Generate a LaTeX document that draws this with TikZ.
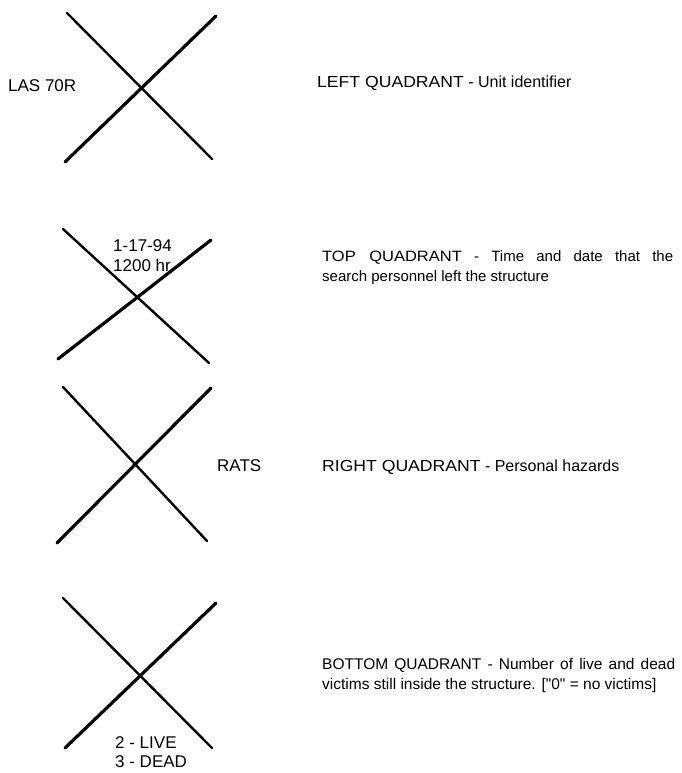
\documentclass[tikz,border=0pt]{standalone}
\usepackage{fontspec}
\setmainfont{Liberation Sans}
\newfontfamily\wideCaps[FakeStretch=1.1]{Liberation Sans}
\usetikzlibrary{positioning}
\newcommand{\plainQuote}{{\addfontfeatures{Ligatures=TeXOff}"}}
\tikzset{
  crossLine/.style={line width=2.4pt, line cap=round},
  crossHeavy/.style={line width=3.2pt, line cap=round},
  markLabel/.style={
    font=\fontsize{17}{20}\selectfont,
    inner sep=0pt, anchor=base west, align=left
  },
  descText/.style={
    font=\fontsize{16}{20}\selectfont,
    inner sep=0pt, anchor=base west, align=left
  }
}
\begin{document}
\begin{tikzpicture}[x=1pt, y=-1pt]

\useasboundingbox (0,0) rectangle (681,773);

%% ==============================================================
%% Left quadrant
%% ==============================================================
\coordinate (aTL) at (67,13);
\coordinate (aTR) at (216,16);
\coordinate (aBL) at (65,162);
\coordinate (aBR) at (212,159);
\draw[crossLine] (aTL) -- (aBR);
\draw[crossHeavy] (aBL) -- (aTR);

\node[markLabel] (unitId) at (8,92) {LAS 70R};
\node[descText] (leftDesc) at (317,88)
  {{\wideCaps LEFT QUADRANT} - Unit identifier};

%% ==============================================================
%% Top quadrant
%% ==============================================================
\coordinate (bTL) at (63,229);
\coordinate (bTR) at (211,240);
\coordinate (bBL) at (58,359);
\coordinate (bBR) at (209,363);
\draw[crossLine] (bTL) -- (bBR);
\draw[crossHeavy] (bBL) -- (bTR);

\node[markLabel] (timeDate) at (113,271) {1-17-94\\1200 hr};
\node[descText, font=\fontsize{15}{20}\selectfont, text width=351pt,
      align=justify] (topDesc) at (322,261) {
  {\wideCaps TOP QUADRANT} - Time and date that the\linebreak
  search personnel left the structure
};

%% ==============================================================
%% Right quadrant
%% ==============================================================
\coordinate (cTL) at (63,387);
\coordinate (cTR) at (211,388);
\coordinate (cBL) at (57,543);
\coordinate (cBR) at (207,541);
\draw[crossLine] (cTL) -- (cBR);
\draw[crossHeavy] (cBL) -- (cTR);

\node[markLabel] (hazard) at (217,471) {RATS};
\node[descText] (rightDesc) at (322,471)
  {{\wideCaps RIGHT QUADRANT} - Personal hazards};

%% ==============================================================
%% Bottom quadrant
%% ==============================================================
\coordinate (dTL) at (63,598);
\coordinate (dTR) at (216,603);
\coordinate (dBL) at (65,748);
\coordinate (dBR) at (212,748);
\draw[crossLine] (dTL) -- (dBR);
\draw[crossHeavy] (dBL) -- (dTR);

\node[markLabel, font=\fontsize{17}{19}\selectfont] (victims) at (115,767)
  {2 - LIVE\\3 - DEAD};
\node[descText, font=\fontsize{15.5}{20}\selectfont, text width=353pt,
      align=justify] (bottomDesc) at (322,669) {
  BOTTOM QUADRANT - Number of live and dead\linebreak
  victims still inside the structure.
  [\plainQuote 0\plainQuote\ = no victims]
};

\end{tikzpicture}
\end{document}
